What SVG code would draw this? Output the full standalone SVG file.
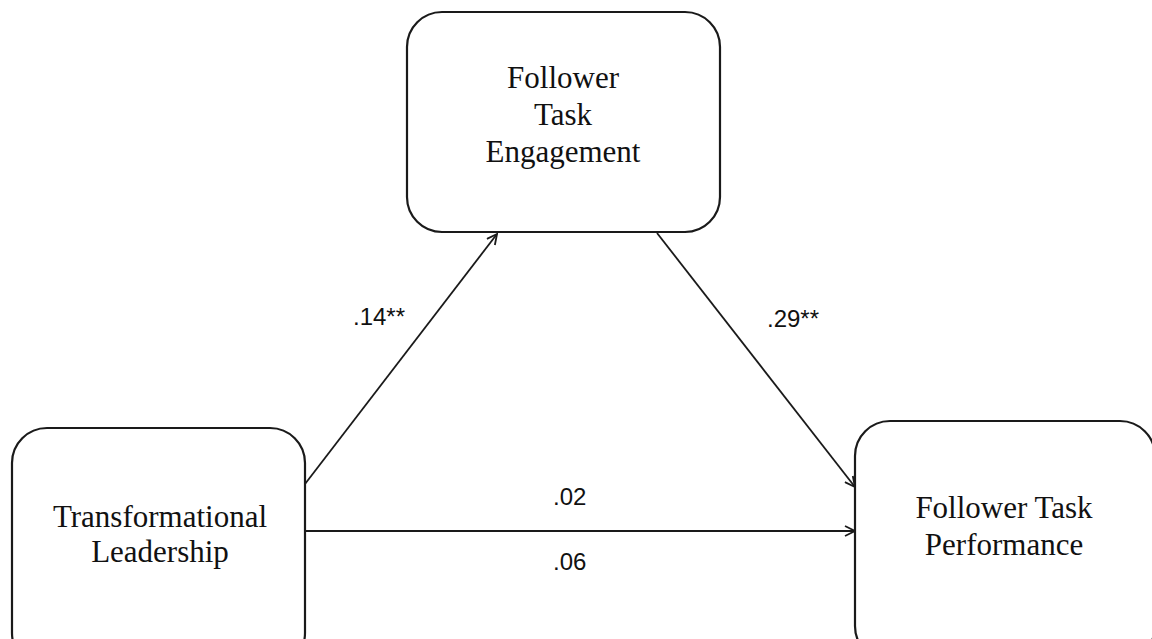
<svg xmlns="http://www.w3.org/2000/svg" width="1152" height="639" viewBox="0 0 1152 639">
<style>
.box{fill:#fff;stroke:#1a1a1a;stroke-width:2.2}
.lbl{font-family:"Liberation Serif","Times New Roman",serif;font-size:31px;fill:#111;text-anchor:middle}
.coef{font-family:"Liberation Sans",Arial,sans-serif;font-size:24px;fill:#111}
.conn{stroke:#1a1a1a;stroke-width:1.8;fill:none;marker-end:url(#arr)}
</style>
<defs>
<marker id="arr" viewBox="0 0 12 12" refX="11" refY="6" markerWidth="12" markerHeight="12" markerUnits="userSpaceOnUse" orient="auto">
<path d="M1,1 L11,6 L1,11" fill="none" stroke="#1a1a1a" stroke-width="1.8"/>
</marker>
</defs>
<rect width="1152" height="639" fill="#fff"/>
<g id="connectors">
<line class="conn" x1="305" y1="484" x2="497" y2="234"/>
<line class="conn" x1="657" y1="233" x2="855" y2="487"/>
<line class="conn" x1="305" y1="531" x2="855" y2="531"/>
<text class="coef" x="353" y="325">.14**</text>
<text class="coef" x="767" y="327">.29**</text>
<text class="coef" x="553" y="505">.02</text>
<text class="coef" x="553" y="570">.06</text>
</g>
<g id="node-engagement">
<rect class="box" x="407" y="12" width="313" height="220" rx="35" ry="35"/>
<text class="lbl" x="563" y="88">Follower</text>
<text class="lbl" x="563" y="125">Task</text>
<text class="lbl" x="563" y="162">Engagement</text>
</g>
<g id="node-leadership">
<rect class="box" x="12" y="428" width="293" height="240" rx="35" ry="35"/>
<text class="lbl" x="160" y="527">Transformational</text>
<text class="lbl" x="160" y="562">Leadership</text>
</g>
<g id="node-performance">
<rect class="box" x="855" y="421" width="300" height="240" rx="35" ry="35"/>
<text class="lbl" x="1004" y="518">Follower Task</text>
<text class="lbl" x="1004" y="555">Performance</text>
</g>
</svg>
